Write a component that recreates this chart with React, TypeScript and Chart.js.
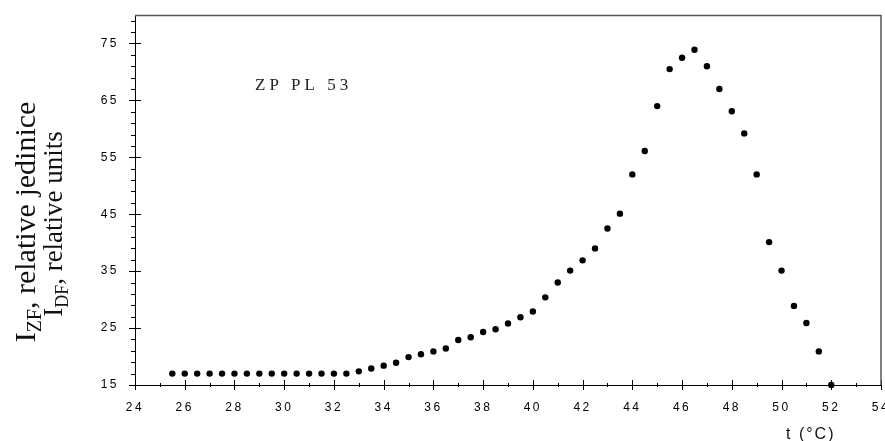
import React, { useEffect, useRef } from "react";
import { Chart, registerables } from "chart.js";

Chart.register(...registerables);

const TEMPS = [
  25.5, 26, 26.5, 27, 27.5, 28, 28.5, 29, 29.5, 30, 30.5, 31, 31.5, 32, 32.5,
  33, 33.5, 34, 34.5, 35, 35.5, 36, 36.5, 37, 37.5, 38, 38.5, 39, 39.5, 40,
  40.5, 41, 41.5, 42, 42.5, 43, 43.5, 44, 44.5, 45, 45.5, 46, 46.5, 47, 47.5,
  48, 48.5, 49, 49.5, 50, 50.5, 51, 51.5, 52,
];

const VALUES = [
  17, 17, 17, 17, 17, 17, 17, 17, 17, 17, 17, 17, 17, 17, 17,
  17.4, 17.9, 18.4, 18.9, 19.9, 20.4, 20.9, 21.4, 22.9, 23.4, 24.3, 24.8, 25.8, 26.9, 27.9,
  30.4, 33.0, 35.1, 36.9, 39.0, 42.5, 45.1, 52.0, 56.1, 64.0, 70.5, 72.5, 73.9, 71.0, 67.0,
  63.1, 59.2, 52.0, 40.1, 35.1, 28.9, 25.9, 20.9, 15,
];

const X_TICKS = [24, 26, 28, 30, 32, 34, 36, 38, 40, 42, 44, 46, 48, 50, 52, 54];
const X_MINOR = [25, 27, 29, 31, 33, 35, 37, 39, 41, 43, 45, 47, 49, 51, 53];
const Y_TICKS = [15, 25, 35, 45, 55, 65, 75];
const Y_MINOR = [
  17, 19, 21, 23, 27, 29, 31, 33, 37, 39, 41, 43, 47, 49, 51, 53, 57, 59, 61, 63,
  67, 69, 71, 73, 77, 79,
];

const SAMPLE_LABEL = "ZP PL 53";
const X_TITLE = "t (°C)";
const Y_TITLE_1 = [
  { text: "I", sub: false },
  { text: "ZF", sub: true },
  { text: ", relative jedinice", sub: false },
];
const Y_TITLE_2 = [
  { text: "I", sub: false },
  { text: "DF", sub: true },
  { text: ", relative units", sub: false },
];

const SERIF = "'Liberation Serif', 'Times New Roman', serif";
const SANS = "'Liberation Sans', Arial, sans-serif";

function drawRotatedTitle(
  ctx: CanvasRenderingContext2D,
  parts: { text: string; sub: boolean }[],
  baseX: number,
  centerY: number,
  size: number,
  subSize: number,
  subDy: number
) {
  ctx.save();
  (ctx as any).letterSpacing = "0px";
  ctx.translate(baseX, centerY);
  ctx.rotate(-Math.PI / 2);
  ctx.textAlign = "left";
  ctx.textBaseline = "alphabetic";
  ctx.fillStyle = "#111";
  let total = 0;
  const widths = parts.map((p) => {
    ctx.font = `${p.sub ? subSize : size}px ${SERIF}`;
    const w = ctx.measureText(p.text).width;
    total += w;
    return w;
  });
  let x = -total / 2;
  parts.forEach((p, i) => {
    ctx.font = `${p.sub ? subSize : size}px ${SERIF}`;
    ctx.fillText(p.text, x, p.sub ? subDy : 0);
    x += widths[i];
  });
  ctx.restore();
}

const decorPlugin = {
  id: "decor",
  beforeDraw(chart: any) {
    chart.ctx.letterSpacing = "2.5px";
  },
  afterDraw(chart: any) {
    const ctx: CanvasRenderingContext2D = chart.ctx;
    (ctx as any).letterSpacing = "0px";
    const { left, right, top, bottom } = chart.chartArea;
    const xs = chart.scales.x;
    const ys = chart.scales.y;
    ctx.save();
    ctx.strokeStyle = "#000";
    ctx.lineWidth = 1;
    ctx.beginPath();
    Y_TICKS.forEach((v) => {
      const y = Math.round(ys.getPixelForValue(v)) + 0.5;
      ctx.moveTo(left - 6, y);
      ctx.lineTo(left + 6, y);
    });
    Y_MINOR.forEach((v) => {
      const y = Math.round(ys.getPixelForValue(v)) + 0.5;
      ctx.moveTo(left - 4, y);
      ctx.lineTo(left, y);
    });
    X_TICKS.forEach((v) => {
      const x = Math.round(xs.getPixelForValue(v)) + 0.5;
      ctx.moveTo(x, bottom - 5);
      ctx.lineTo(x, bottom + 5);
    });
    X_MINOR.forEach((v) => {
      const x = Math.round(xs.getPixelForValue(v)) + 0.5;
      ctx.moveTo(x, bottom - 2);
      ctx.lineTo(x, bottom + 2);
    });
    ctx.stroke();

    // top and right frame
    ctx.strokeStyle = "#555";
    ctx.lineWidth = 1.5;
    ctx.beginPath();
    ctx.moveTo(left, Math.round(top) + 0.5);
    ctx.lineTo(right, Math.round(top) + 0.5);
    ctx.lineTo(right, bottom);
    ctx.stroke();

    // sample label
    ctx.fillStyle = "#222";
    ctx.font = `17px ${SERIF}`;
    (ctx as any).letterSpacing = "4px";
    ctx.textAlign = "left";
    ctx.textBaseline = "alphabetic";
    ctx.fillText(SAMPLE_LABEL, 255, 90);

    // x title
    ctx.fillStyle = "#111";
    ctx.font = `16px ${SANS}`;
    (ctx as any).letterSpacing = "2px";
    ctx.fillText(X_TITLE, 786, 439);
    ctx.restore();

    drawRotatedTitle(ctx, Y_TITLE_1, 35, 222, 30, 20, 6);
    drawRotatedTitle(ctx, Y_TITLE_2, 62, 224, 27, 18, 6);
  },
};

export default function App() {
  const ref = useRef<HTMLCanvasElement | null>(null);

  useEffect(() => {
    if (!ref.current) return;
    const chart = new Chart(ref.current, {
      type: "scatter",
      data: {
        datasets: [
          {
            data: TEMPS.map((t, i) => ({ x: t, y: VALUES[i] })),
            backgroundColor: "#000",
            borderColor: "#000",
            borderWidth: 0,
            pointRadius: 3.2,
            pointHoverRadius: 3.2,
            showLine: false,
            clip: false as any,
          },
        ],
      },
      options: {
        animation: false,
        responsive: false,
        devicePixelRatio: 1,
        layout: { padding: { top: 15, right: 4, left: 0, bottom: 0 } },
        plugins: {
          legend: { display: false },
          tooltip: { enabled: false },
        },
        scales: {
          x: {
            type: "linear",
            min: 24,
            max: 54,
            afterBuildTicks: (s: any) => {
              s.ticks = X_TICKS.map((v) => ({ value: v }));
            },
            afterFit: (s: any) => {
              s.height = 56;
              s.paddingLeft = 0;
              s.paddingRight = 0;
            },
            grid: { display: false },
            border: { display: true, color: "#000", width: 1 },
            ticks: {
              autoSkip: false,
              maxRotation: 0,
              padding: 7,
              color: "#000",
              font: { family: SANS, size: 12 },
              callback: (v: any) => String(v),
            },
          },
          y: {
            type: "linear",
            min: 15,
            max: 80,
            afterBuildTicks: (s: any) => {
              s.ticks = Y_TICKS.map((v) => ({ value: v }));
            },
            afterFit: (s: any) => {
              s.width = 135;
              s.paddingTop = 0;
              s.paddingBottom = 0;
            },
            grid: { display: false },
            border: { display: true, color: "#000", width: 1 },
            ticks: {
              autoSkip: false,
              padding: 8,
              color: "#000",
              font: { family: SANS, size: 12 },
              callback: (v: any) => String(v),
            },
          },
        },
      },
      plugins: [decorPlugin],
    });
    return () => chart.destroy();
  }, []);

  return (
    <div style={{ position: "fixed", left: 0, top: 0, width: 885, height: 441, background: "#fff" }}>
      <canvas ref={ref} width={885} height={441} style={{ width: 885, height: 441, display: "block" }} />
    </div>
  );
}
